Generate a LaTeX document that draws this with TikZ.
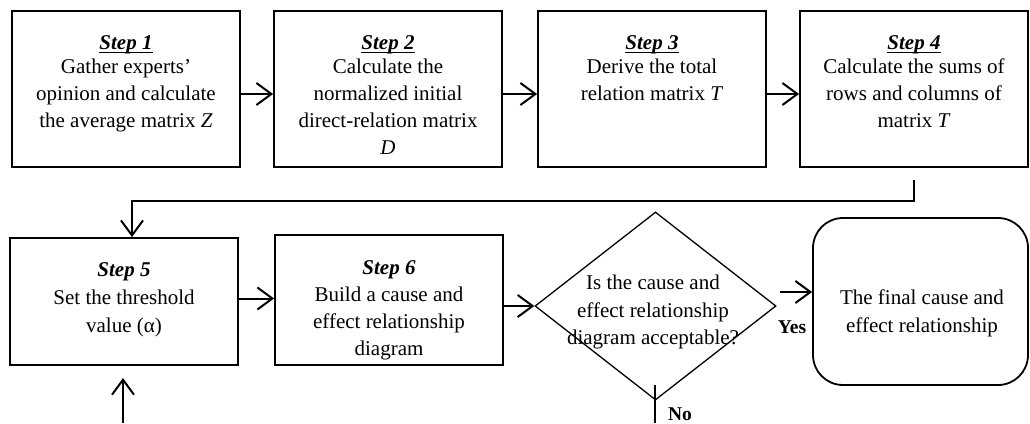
\documentclass[tikz,border=0pt]{standalone}
\usepackage{fontspec}
\setmainfont{Liberation Serif}
\usetikzlibrary{arrows.meta,shapes.geometric}
\newsavebox\stepbx
\newcommand\steptitle[1]{\sbox\stepbx{\textbf{\textit{#1}}}\rlap{\rule[-3.5pt]{\wd\stepbx}{1.1pt}}\usebox\stepbx}
\begin{document}
\begin{tikzpicture}[x=1pt,y=-1pt,
  stepbox/.style={draw, line width=1.8pt, inner sep=0pt, minimum width=228pt},
  txt/.style={anchor=north, align=center, inner sep=0pt, font=\fontsize{21}{27}\selectfont},
  arr/.style={line width=2pt, -{Straight Barb[length=15pt,width=22pt]}},
  lbl/.style={anchor=base, inner sep=0pt, font=\fontsize{19.5}{23}\selectfont\bfseries}
]
\useasboundingbox (0,0) rectangle (1030,423);

% top row
\node[stepbox, minimum height=156pt] (box1) at (126,89) {};
\node[stepbox, minimum height=156pt] (box2) at (388,89) {};
\node[stepbox, minimum height=156pt] (box3) at (652,89) {};
\node[stepbox, minimum height=156pt] (box4) at (914,89) {};

\node[txt] (t1) at (126,34) {\rule{0pt}{15pt}\steptitle{Step 1}\\[-3pt] Gather experts'\\ opinion and calculate\\ the average matrix \textit{Z}};
\node[txt] (t2) at (388,34) {\rule{0pt}{15pt}\steptitle{Step 2}\\[-3pt] Calculate the\\ normalized initial\\ direct-relation matrix\\ \textit{D}};
\node[txt] (t3) at (652,34) {\rule{0pt}{15pt}\steptitle{Step 3}\\[-3pt] Derive the total\\ relation matrix \textit{T}};
\node[txt] (t4) at (914,34) {\rule{0pt}{15pt}\steptitle{Step 4}\\[-3pt] Calculate the sums of\\ rows and columns of\\ matrix \textit{T}};

% bottom row
\node[stepbox, minimum height=127pt] (box5) at (124,301.5) {};
\node[stepbox, minimum height=130pt] (box6) at (389,300) {};
\node[draw, diamond, line width=1.3pt, inner sep=0pt, minimum width=241pt, minimum height=188pt] (dia) at (655.5,306) {};
\node[draw, rounded corners=30pt, line width=1.8pt, inner sep=0pt, minimum width=215pt, minimum height=167pt] (fin) at (920.5,301.5) {};

\node[txt] (t5) at (124,261) {\rule{0pt}{15pt}\textbf{\textit{Step 5}}\\[1pt] Set the threshold\\[1pt] value (α)};
\node[txt] (t6) at (389,259) {\rule{0pt}{15pt}\textbf{\textit{Step 6}}\\ Build a cause and\\ effect relationship\\ diagram};
\node[txt] (td) at (653,274) {\rule{0pt}{15pt}Is the cause and\\[1pt] effect relationship\\ diagram acceptable?};
\node[txt] (tf) at (922,289) {\rule{0pt}{15pt}The final cause and\\[1pt] effect relationship};

\node[lbl] (yes) at (792,333) {Yes};
\node[lbl] (no) at (680,420) {No};

% connectors top row
\draw[arr] ([yshift=-5pt]box1.east) -- ([yshift=-5pt]box2.west);
\draw[arr] ([yshift=-5pt]box2.east) -- ([yshift=-5pt]box3.west);
\draw[arr] ([yshift=-5pt]box3.east) -- ([yshift=-5pt]box4.west);

% step 4 -> step 5
\coordinate (c4) at (914,180);
\coordinate (c5) at (132,201);
\draw[arr] (c4) |- (c5) -- (c5 |- box5.north);

% bottom row
\coordinate (a56) at ([yshift=3pt]box5.east);
\draw[arr] (a56) -- (a56 -| box6.west);
\draw[arr] (box6.east |- dia.west) -- (dia.west);
\coordinate (ys) at (780,292);
\draw[arr] (ys) -- (ys -| fin.west);

% no branch
\coordinate (n1) at (655,385);
\coordinate (n2) at (655,423);
\draw[line width=1.6pt] (n1) -- (n2);

% up arrow
\coordinate (u1) at (123,423);
\coordinate (u2) at (123,378);
\draw[arr] (u1) -- (u2);
\end{tikzpicture}
\end{document}
